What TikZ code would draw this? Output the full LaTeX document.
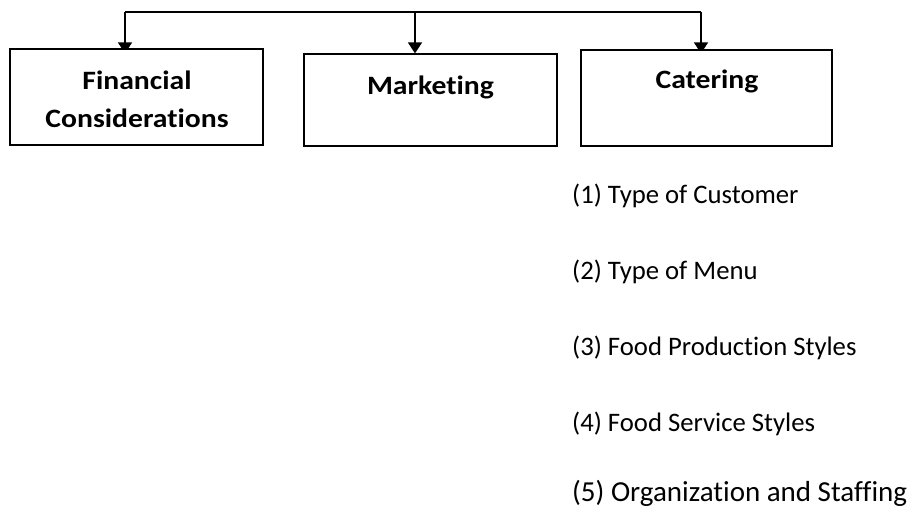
\documentclass[tikz,border=0pt]{standalone}
\usepackage{fontspec}
\setmainfont{Carlito}[Ligatures=NoCommon]
\newfontfamily\boxfont{Carlito}[Ligatures=NoCommon, FakeStretch=1.12]
\usetikzlibrary{arrows.meta,backgrounds}

\tikzset{
  box/.style={draw, fill=white, line width=1.2pt, inner sep=0pt},
  boxtext/.style={font=\boxfont\bfseries\fontsize{26.5}{38}\selectfont, align=center, anchor=base, inner sep=0pt},
  item/.style={font=\fontsize{26.7}{31}\selectfont, anchor=base west, inner sep=0pt},
  feed/.style={line width=1.5pt, -{Triangle[width=14pt,length=11pt]}}
}

\begin{document}
\begin{tikzpicture}[x=1pt,y=-1pt]
    \useasboundingbox (0,0) rectangle (914,510);

    % the three boxes
    \node[box, minimum width=253pt, minimum height=96pt] (fin) at (136.5,97) {};
    \node[box, minimum width=253pt, minimum height=92pt] (mkt) at (430.5,100) {};
    \node[box, minimum width=251pt, minimum height=96pt] (cat) at (706.5,98) {};

    % base of a two-line node is its last line
    \node[boxtext] (fintext) at (137,128) {Financial\\Considerations};
    \node[boxtext] (mkttext) at (430.5,95) {Marketing};
    \node[boxtext] (cattext) at (707,89) {Catering};

    % bar on top
    \coordinate (bar1) at (125,12);
    \coordinate (bar2) at (415,12);
    \coordinate (bar3) at (701,12);

    \begin{scope}[on background layer]
    \draw[line width=1.5pt] (bar1) -- (bar3);
    \draw[feed] (bar1) -- (bar1 |- mkt.north);
    \draw[feed] (bar2) -- (bar2 |- mkt.north);
    \draw[feed] (bar3) -- (bar3 |- mkt.north);
    \end{scope}

    % catering list
    \foreach \txt [count=\i] in {Type of Customer, Type of Menu, Food Production Styles, Food Service Styles}
        \node[item] (item\i) at (572, {128+76*\i}) {(\i) \txt};
    \node[item, font=\fontsize{29}{34}\selectfont] (item5) at (572,502) {(5) Organization and Staffing};
\end{tikzpicture}
\end{document}
